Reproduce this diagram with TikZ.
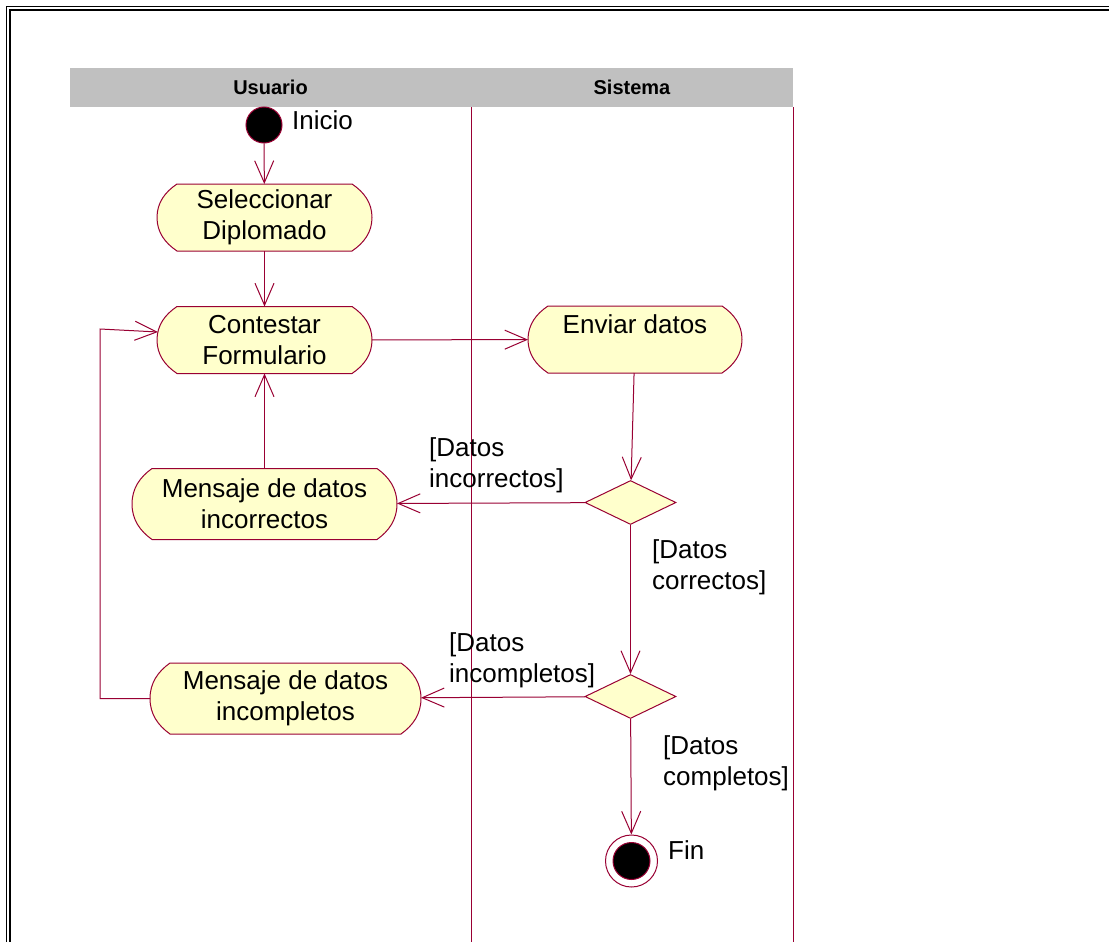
\documentclass[tikz,border=0pt]{standalone}
\usepackage{fontspec}
\setmainfont{Liberation Sans}
\usetikzlibrary{arrows.meta,shapes.geometric}

\definecolor{rose}{RGB}{153,0,51}
\definecolor{actfill}{RGB}{255,255,204}
\definecolor{lanegray}{RGB}{192,192,192}

\tikzset{
  flow/.style={draw=rose, line width=1pt, -{Straight Barb[length=22pt,width=19pt]}},
  laneline/.style={draw=rose, line width=1pt},
  actshape/.style={fill=actfill, draw=rose, line width=1pt, line join=miter},
  acttext/.style={inner sep=0pt, outer sep=0pt, align=center,
    font=\fontsize{26}{31}\selectfont},
  guard/.style={inner sep=0pt, align=left, anchor=base west,
    font=\fontsize{26}{31}\selectfont},
  statelabel/.style={inner sep=0pt, anchor=base west, font=\fontsize{26}{31}\selectfont},
  lanehead/.style={inner sep=0pt, font=\fontsize{20}{22}\selectfont\bfseries},
  decision/.style={diamond, fill=actfill, draw=rose, line width=1pt, inner sep=0pt,
    minimum width=91pt, minimum height=44pt},
  startstate/.style={circle, fill=black, draw=rose, line width=1pt, inner sep=0pt,
    minimum size=36pt},
  endring/.style={circle, fill=white, draw=rose, line width=1pt, inner sep=0pt,
    minimum size=52pt},
  enddot/.style={circle, fill=black, draw=rose, line width=1pt, inner sep=0pt,
    minimum size=37pt},
}

% activity: name, centre x, centre y, width, height, text
\newcommand\actnode[6]{%
  \path[actshape]
    (#2-#4/2+20, #3-#5/2) -- (#2+#4/2-20, #3-#5/2)
    .. controls (#2+#4/2-8, #3-#5/2+0.12*#5) and (#2+#4/2, #3-0.22*#5) .. (#2+#4/2, #3)
    .. controls (#2+#4/2, #3+0.22*#5) and (#2+#4/2-8, #3+#5/2-0.12*#5) .. (#2+#4/2-20, #3+#5/2)
    -- (#2-#4/2+20, #3+#5/2)
    .. controls (#2-#4/2+8, #3+#5/2-0.12*#5) and (#2-#4/2, #3+0.22*#5) .. (#2-#4/2, #3)
    .. controls (#2-#4/2, #3-0.22*#5) and (#2-#4/2+8, #3-#5/2+0.12*#5) .. cycle;
  \node[acttext, minimum width=#4pt, minimum height=#5pt] (#1) at (#2,#3) {#6};
}

\begin{document}
\begin{tikzpicture}[x=1pt, y=-1pt]
  \useasboundingbox (0,0) rectangle (1109,942);
  \fill[white] (0,0) rectangle (1109,942);

  % double frame
  \draw[black, line width=1pt, line join=miter] (6.5,942) -- (6.5,6.5) -- (1109,6.5);
  \draw[black, line width=2pt, line join=miter] (10.3,942) -- (10.3,10.3) -- (1109,10.3);

  % swimlanes
  \fill[lanegray] (70,68) rectangle (793,107);
  \node[lanehead] (hu) at (270.5,87.5) {Usuario};
  \node[lanehead] (hs) at (632,87.5) {Sistema};
  \draw[laneline] (471,107) -- (471,942);
  \draw[laneline] (793,107) -- (793,942);

  % states
  \node[startstate] (start) at (264,125) {};
  \node[statelabel] (lini) at (292,129) {Inicio};

  \actnode{sel}{264.5}{217.5}{215}{67}{Seleccionar\\Diplomado}
  \actnode{con}{264.5}{340}{215}{67}{Contestar\\Formulario}
  \actnode{env}{635}{339.5}{214}{67}{Enviar datos\\\mbox{}}
  \actnode{inc}{264.5}{504}{265}{71}{Mensaje de datos\\incorrectos}
  \actnode{cmp}{285.5}{698.5}{271}{71}{Mensaje de datos\\incompletos}

  \node[decision] (d1) at (630.5,502.5) {};
  \node[decision] (d2) at (630.5,696.5) {};

  \node[endring] (fin) at (631.5,861) {};
  \node[enddot] (findot) at (fin.center) {};
  \node[statelabel] (lfin) at (668,859) {Fin};

  % guards (base anchor sits on the second line)
  \node[guard] (gi) at (429,487) {[Datos\\incorrectos]};
  \node[guard] (gc) at (652,589) {[Datos\\correctos]};
  \node[guard] (gm) at (449,682) {[Datos\\incompletos]};
  \node[guard] (gk) at (663,785) {[Datos\\completos]};

  % transitions
  \draw[flow] (start) -- (sel);
  \draw[flow] (sel) -- (con);
  \draw[flow] (con) -- (env);
  \draw[flow] (env) -- (d1);
  \draw[flow] (d1) -- (inc);
  \draw[flow] (inc) -- (con);
  \draw[flow] (d1) -- (d2);
  \draw[flow] (d2) -- (cmp);
  \draw[flow] (cmp.west) -| ([xshift=-57pt,yshift=11pt]con.west)
    -- ([xshift=1pt,yshift=8pt]con.west);
  \draw[flow] (d2) -- (fin);
\end{tikzpicture}
\end{document}
